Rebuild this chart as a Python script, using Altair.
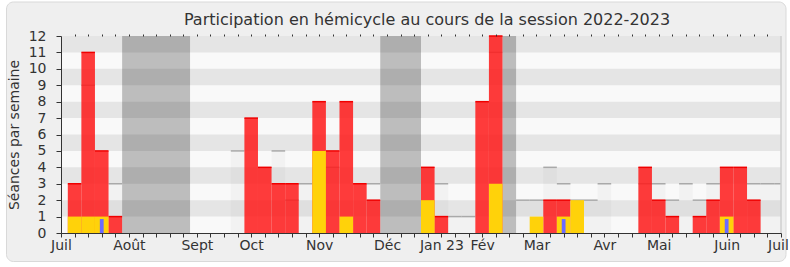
import altair as alt
import pandas as pd

# ---------------- data (week index 0 = first week of July 2022) ----------------
weeks_red = [0, 1, 2, 3, 13, 14, 15, 16, 18, 19, 20, 21, 22, 26, 27, 30, 31,
             35, 36, 42, 43, 44, 46, 47, 48, 49, 50]
red_vals = [3, 11, 5, 1, 7, 4, 3, 3, 8, 5, 8, 3, 2, 4, 1, 8, 12,
            2, 2, 4, 2, 1, 1, 2, 4, 4, 2]

weeks_yellow = [0, 1, 2, 18, 20, 26, 31, 34, 36, 37, 48]
yellow_vals = [1, 1, 1, 5, 1, 2, 3, 1, 1, 2, 1]

weeks_blue = [2, 36, 48]
blue_vals = [0.85, 0.85, 0.85]

weeks_median = [1, 3, 12, 15, 16, 17, 19, 22, 27, 28, 29, 31, 33, 34, 35, 36, 37,
                38, 39, 42, 43, 44, 45, 46, 47, 50, 51, 52]
median_vals = [9, 3, 5, 5, 2, 3, 4, 3, 3, 1, 1, 11, 2, 2, 4, 3, 2,
               2, 3, 3, 3, 2, 3, 2, 3, 3, 3, 3]

vac_start = [4, 23, 32]
vac_end = [8, 25, 32]

stripe_low = [1, 3, 5, 7, 9, 11]

month_ticks = [-1, 4, 9, 13, 18, 23, 27, 30, 34, 39, 43, 48, 52]
month_labels = ["Juil", "Août", "Sept", "Oct", "Nov", "Déc", "Jan 23", "Fév",
                "Mar", "Avr", "Mai", "Juin", "Juil"]

TITLE = "Participation en hémicycle au cours de la session 2022-2023"
YTITLE = "Séances par semaine"

# ---------------- chart ----------------
W, H = 720, 197
FONT = "DejaVu Sans"
TXT = "#333333"
XMIN, XMAX, YMAX = -1, 52, 12

x_scale = alt.Scale(domain=[XMIN, XMAX], nice=False, zero=False)
y_scale = alt.Scale(domain=[0, YMAX], nice=False, zero=False)

label_expr = " : ".join(
    f"datum.value == {v} ? '{l}'" for v, l in zip(month_ticks, month_labels)
) + " : ''"

x_axis_bottom = alt.Axis(orient="bottom", values=list(range(-1, 53)),
                         labelExpr=label_expr, tickSize=4, tickColor=TXT,
                         domainColor=TXT, labelColor=TXT, labelFont=FONT,
                         labelFontSize=14, labelPadding=1, labelFlush=False,
                         labelOverlap=False, grid=False, title=None, zindex=1,
                         labelOffset={"condition": {"test": f"datum.value == {XMAX}",
                                                    "value": -3},
                                      "value": 0})
x_axis_top = alt.Axis(orient="top", values=list(range(0, 52)), labels=False,
                      domain=False, tickSize=2, tickColor=TXT, grid=False,
                      title=None, zindex=1)
y_axis = alt.Axis(values=list(range(13)), tickSize=5, tickColor=TXT,
                  domainColor=TXT, labelColor=TXT, labelFont=FONT,
                  labelFontSize=14, labelPadding=10, labelFlush=False,
                  grid=False, title=YTITLE, titleFont=FONT, titleFontSize=14,
                  titleFontWeight="normal", titleColor=TXT, titlePadding=7,
                  zindex=1)

one = pd.DataFrame({"k": [0]})


def Xq(field, axis=None):
    return alt.X(field, type="quantitative", scale=x_scale, axis=axis)


def Yq(field):
    return alt.Y(field, type="quantitative", scale=y_scale, axis=y_axis)


# decorative rounded frame around the whole figure
frame = alt.Chart(one).mark_rect(
    fill="#efefef", stroke="#d9d9d9", strokeWidth=1, cornerRadius=7
).encode(x=alt.value(-54.5), x2=alt.value(725), y=alt.value(-34), y2=alt.value(225.5))

# chart title (as a text mark so the frame does not push it away)
title = alt.Chart(one).mark_text(
    text=TITLE, font=FONT, fontSize=16, color=TXT, align="center",
    baseline="alphabetic"
).encode(x=alt.value(366), y=alt.value(-11))

# plot background
bg = alt.Chart(one).transform_calculate(
    xa=str(XMIN), xb=str(XMAX), ya="0", yb=str(YMAX)
).mark_rect(color="#f9f9f9").encode(
    x=Xq("xa"), x2="xb:Q", y=Yq("ya"), y2="yb:Q",
)

vac_df = pd.DataFrame({"s": vac_start, "e": vac_end})
vac = alt.Chart(vac_df).transform_calculate(
    x0="datum.s - 0.5", x1="datum.e + 0.5", ya="0", yb=str(YMAX)
).mark_rect(color="#bdbdbd").encode(
    x=Xq("x0"), x2="x1:Q", y=Yq("ya"), y2="yb:Q",
)

med_df = pd.DataFrame({"week": weeks_median, "value": median_vals})
med_base = alt.Chart(med_df).transform_calculate(
    x0="datum.week - 0.5", x1="datum.week + 0.5", ya="0"
)
med_fill = med_base.mark_rect(color="#cccccc", opacity=0.14, clip=True).encode(
    x=Xq("x0", x_axis_top), x2="x1:Q", y=Yq("ya"), y2="value:Q",
)

stripe_df = pd.DataFrame({"lo": stripe_low})
stripes = alt.Chart(stripe_df).transform_calculate(
    hi="datum.lo + 1", xa=str(XMIN), xb=str(XMAX)
).mark_rect(color="#000000", opacity=0.08).encode(
    x=Xq("xa"), x2="xb:Q", y=Yq("lo"), y2="hi:Q",
)

med_line = med_base.mark_rule(color="#a9a9a9", strokeWidth=1.5, clip=True).encode(
    x=Xq("x0"), x2="x1:Q", y=Yq("value"),
)

red_df = pd.DataFrame({"week": weeks_red, "value": red_vals})
red_base = alt.Chart(red_df).transform_calculate(
    x0="datum.week - 0.5", x1="datum.week + 0.5", ya="0"
)
red = red_base.mark_rect(color="#ff1a1a", opacity=0.85).encode(
    x=Xq("x0", x_axis_bottom), x2="x1:Q", y=Yq("ya"), y2="value:Q",
)
red_top = red_base.mark_rule(color="#f00000", strokeWidth=1.5).encode(
    x=Xq("x0"), x2="x1:Q", y=Yq("value"),
)

yel_df = pd.DataFrame({"week": weeks_yellow, "value": yellow_vals})
yellow = alt.Chart(yel_df).transform_calculate(
    x0="datum.week - 0.5", x1="datum.week + 0.5", ya="0"
).mark_rect(color="#ffd20a").encode(
    x=Xq("x0"), x2="x1:Q", y=Yq("ya"), y2="value:Q",
)

blue_df = pd.DataFrame({"week": weeks_blue, "value": blue_vals})
blue = alt.Chart(blue_df).transform_calculate(
    x0="datum.week - 0.14", x1="datum.week + 0.14", ya="0"
).mark_rect(color="#6b6bff").encode(
    x=Xq("x0"), x2="x1:Q", y=Yq("ya"), y2="value:Q",
)

right_edge = alt.Chart(one).transform_calculate(
    xb=str(XMAX), ya="0", yb=str(YMAX)
).mark_rule(color="#cfcfcf", strokeWidth=1.5).encode(
    x=Xq("xb"), y=Yq("ya"), y2="yb:Q",
)

chart = alt.layer(
    frame, title, bg, vac, med_fill, stripes, med_line, red, red_top, yellow,
    blue, right_edge
).resolve_axis(x="independent").properties(
    width=W,
    height=H,
    padding={"left": 61, "top": 36, "right": 9, "bottom": 34},
    autosize=alt.AutoSizeParams(type="none"),
    background="white",
).configure_view(stroke=None)

chart.save("out.html", embed_options={"renderer": "svg", "actions": False})
